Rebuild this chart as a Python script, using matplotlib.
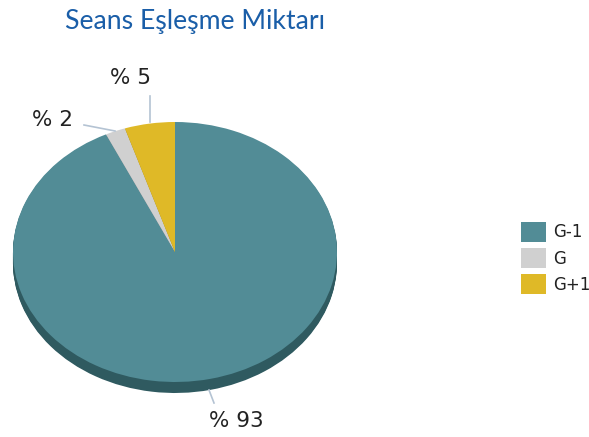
import matplotlib
matplotlib.use("Agg")
import matplotlib.pyplot as plt
from matplotlib.patches import Patch

categories = ["G-1", "G", "G+1"]
values = [93, 2, 5]
labels = ["% 93", "% 2", "% 5"]
colors = ["#528c96", "#d0d0d0", "#dfb927"]
side_colors = ["#2f5a60", "#8a8a8a", "#9a7f1a"]
title = "Seans Eşleşme Miktarı"

W, H = 589, 437
fig = plt.figure(figsize=(W / 100, H / 100), dpi=100)

cx, cy = 175, 252   # pixel center (from top)
rx, ry = 162, 130
ax = fig.add_axes([(cx - rx) / W, (H - cy - ry) / H, 2 * rx / W, 2 * ry / H])

depth = 11 / ry
n = 12
for i in range(n, 0, -1):
    ax.pie(values, colors=side_colors, startangle=90, counterclock=False,
           center=(0, -depth * i / n), radius=1, frame=True,
           wedgeprops=dict(linewidth=0))
wedges, _ = ax.pie(values, colors=colors, startangle=90, counterclock=False,
                   center=(0, 0), radius=1, frame=True,
                   wedgeprops=dict(linewidth=0))
ax.set_aspect("auto")
ax.set_xlim(-1, 1)
ax.set_ylim(-1, 1)
ax.axis("off")

def px(x, y):
    return (x / W, (H - y) / H)

line_col = "#b4c3d3"
lines = [((209, 390), (214, 403)), ((115, 131), (84, 125)), ((150, 122), (150, 96))]
text_pos = [(236, 421), (53, 120), (131, 78)]
for (p0, p1), tp, lab in zip(lines, text_pos, labels):
    fig.add_artist(plt.Line2D([p0[0] / W, p1[0] / W], [(H - p0[1]) / H, (H - p1[1]) / H],
                              color=line_col, lw=1.2, transform=fig.transFigure))
    fig.text(*px(*tp), lab, ha="center", va="center", fontsize=15.5,
             color="#222222", family="DejaVu Sans")

fig.text(*px(65, 21), title, ha="left", va="center", fontsize=19.2,
         color="#1a5ea8", family="Lato")

handles = [Patch(facecolor=c, edgecolor="none") for c in colors]
leg = fig.legend(handles, categories, loc="center left",
                 bbox_to_anchor=(516 / W, (H - 258) / H), frameon=False,
                 borderaxespad=0, borderpad=0.3,
                 handlelength=1.5, handleheight=1.5, handletextpad=0.4,
                 labelspacing=0.35, prop={"family": "DejaVu Sans", "size": 12},
                 labelcolor="#222222")

fig.savefig("out.png", dpi=100)
